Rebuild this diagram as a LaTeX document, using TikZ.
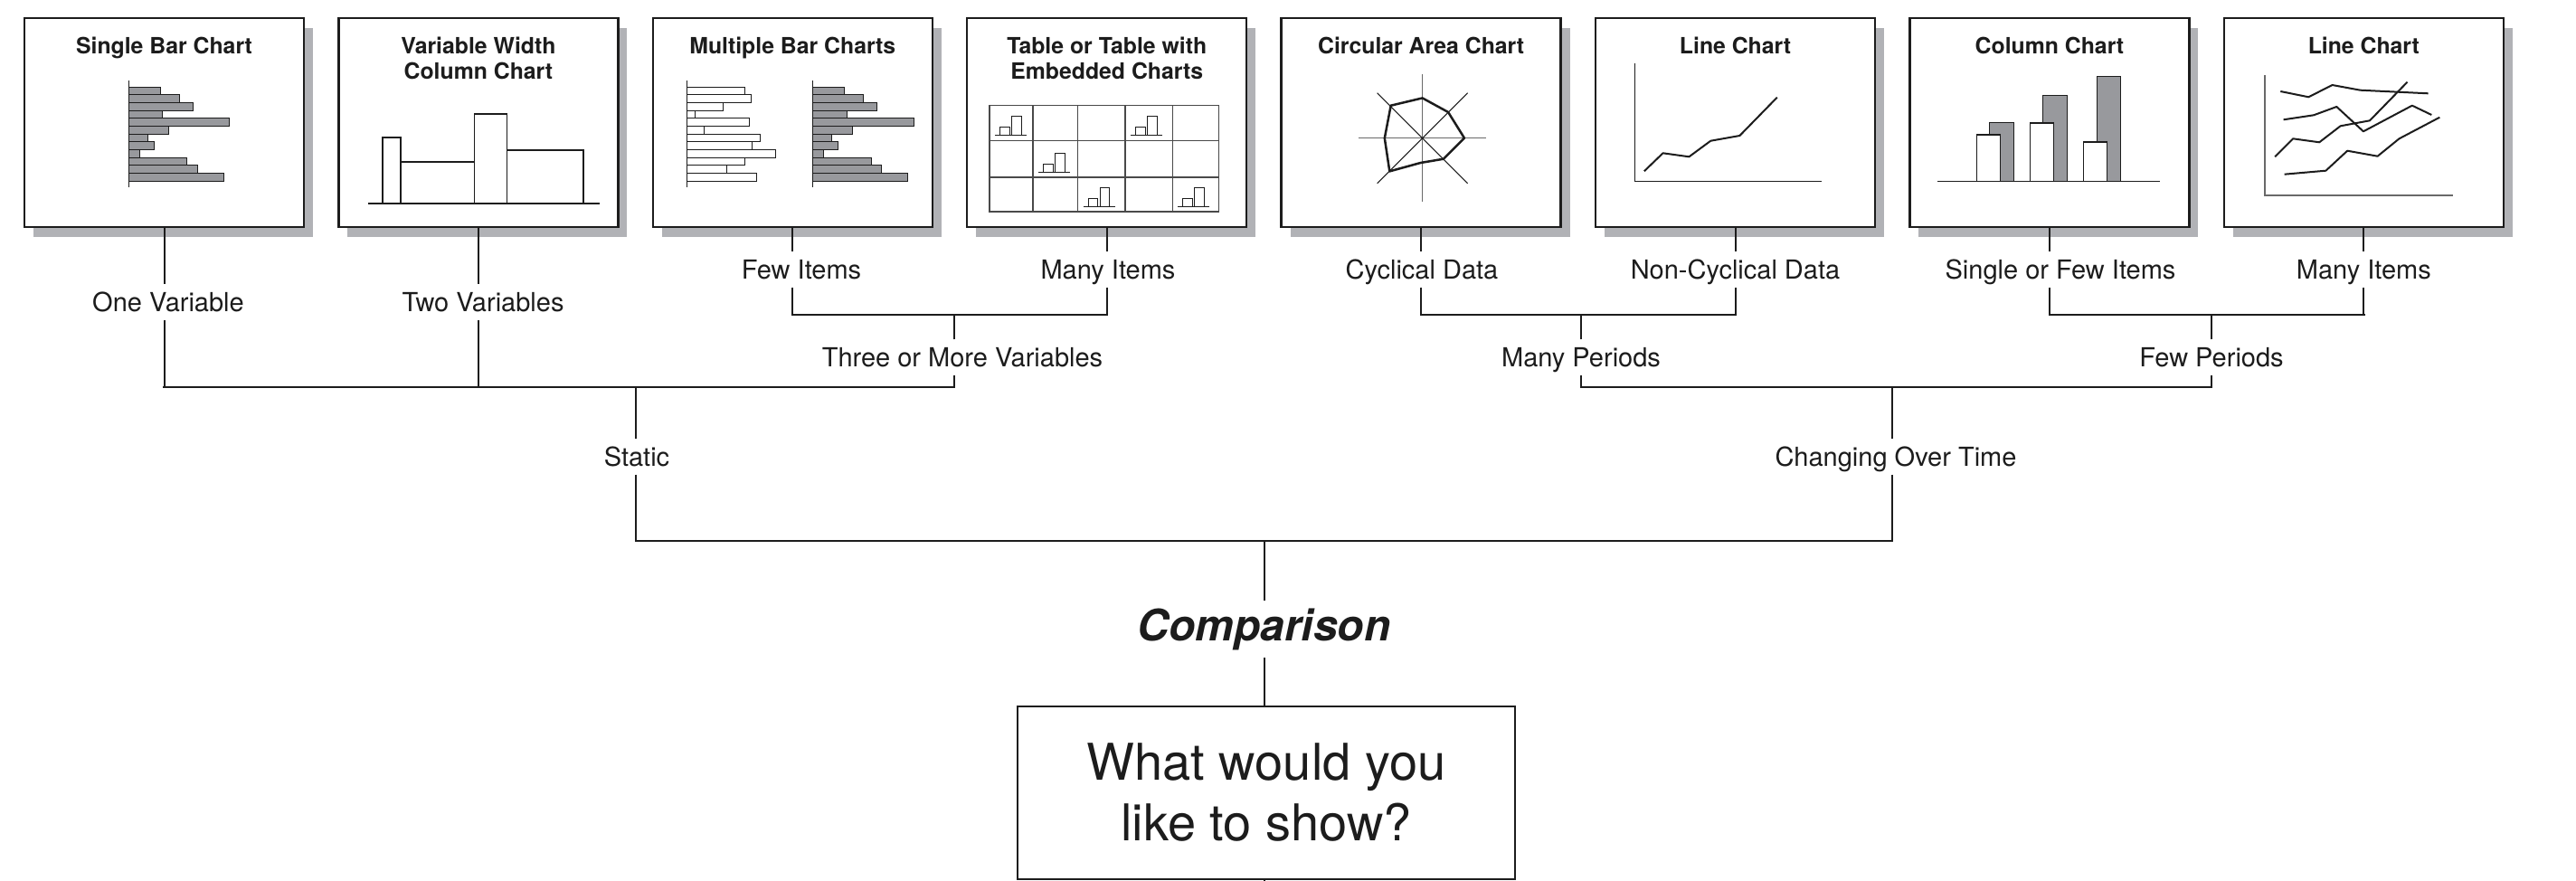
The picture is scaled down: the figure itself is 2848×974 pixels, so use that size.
\documentclass[tikz,border=0pt]{standalone}
\usepackage{fontspec}
\setmainfont{TeX Gyre Heros}
\usetikzlibrary{shadows}
\definecolor{ink}{RGB}{28,28,28}
\definecolor{shadowgray}{RGB}{177,178,182}
\definecolor{barfill}{RGB}{152,153,157}
\definecolor{axisgray}{RGB}{105,105,105}
\begin{document}
\begin{tikzpicture}[x=1pt,y=-1pt,
  chartbox/.style={draw=ink, line width=2.5pt, fill=white, minimum width=309pt, minimum height=231pt, inner sep=0pt,
    general shadow={fill=shadowgray, shadow xshift=10pt, shadow yshift=-11pt}},
  ttl/.style={text=ink, font=\bfseries\fontsize{24.8}{28}\selectfont, align=center, inner sep=0pt, anchor=north},
  lab/.style={text=ink, font=\fontsize{29}{34}\selectfont, text height=21pt, text depth=1pt, inner xsep=4pt, inner ysep=8.5pt, anchor=base},
  cmp/.style={text=ink, font=\bfseries\itshape\fontsize{48}{56}\selectfont, text height=35pt, text depth=10pt, inner xsep=4pt, inner ysep=9pt, anchor=base},
  qbox/.style={draw=ink, line width=2pt, fill=white, minimum width=550pt, minimum height=191pt, align=center, text=ink, font=\fontsize{56}{67}\selectfont},
  conn/.style={draw=ink, line width=2pt},
  brk/.style={draw=ink, line width=2.6pt, line cap=rect},
  thinl/.style={draw=ink, line width=1.2pt},
  axisl/.style={draw=axisgray, line width=1.5pt},
  bar/.style={draw=ink, line width=1pt, fill=barfill},
  wbar/.style={draw=ink, line width=1pt, fill=white},
  wcol/.style={draw=ink, line width=1.4pt, fill=white},
  gridl/.style={draw=ink!80, line width=1.4pt},
  mini/.style={draw=ink, line width=1pt},
  chartline/.style={draw=ink, line width=2pt, line join=round}
]
\useasboundingbox (0,0) rectangle (2848,974);

% level coordinates
\coordinate (lvA) at (0,348);
\coordinate (lvB) at (0,428);
\coordinate (lvC) at (0,598);
\coordinate (ttop) at (0,40.5);
\coordinate (bottomedge) at (0,974);
% junction x positions
\coordinate (jThree) at (1055,0);
\coordinate (jMany) at (1748,0);
\coordinate (jFew) at (2445,0);
\coordinate (jStatic) at (703,0);
\coordinate (jChange) at (2092,0);

% chart boxes
\node[chartbox] (b1) at (181.5,135.5) {};
\node[chartbox] (b2) at (528.9,135.5) {};
\node[chartbox] (b3) at (876.3,135.5) {};
\node[chartbox] (b4) at (1223.7,135.5) {};
\node[chartbox] (b5) at (1571.1,135.5) {};
\node[chartbox] (b6) at (1918.5,135.5) {};
\node[chartbox] (b7) at (2265.9,135.5) {};
\node[chartbox] (b8) at (2613.3,135.5) {};

% titles
\node[ttl] (t1) at (b1.north |- ttop) {Single Bar Chart};
\node[ttl] (t2) at (b2.north |- ttop) {Variable Width\\Column Chart};
\node[ttl] (t3) at (b3.north |- ttop) {Multiple Bar Charts};
\node[ttl] (t4) at (b4.north |- ttop) {Table or Table with\\Embedded Charts};
\node[ttl] (t5) at (b5.north |- ttop) {Circular Area Chart};
\node[ttl] (t6) at (b6.north |- ttop) {Line Chart};
\node[ttl] (t7) at (b7.north |- ttop) {Column Chart};
\node[ttl] (t8) at (b8.north |- ttop) {Line Chart};

% --- box 1: single bar chart
\foreach \l [count=\i from 0] in {35,56,70.7,37.6,111.6,44,21,28.5,12,64,76,104.7}
  \draw[bar] (142.3,{96+\i*8.667}) rectangle ++(\l,8.667);
\draw[thinl] (142.3,89) -- (142.3,207);

% --- box 2: variable width column chart
\draw[wcol] (422.9,225) rectangle (443,152);
\draw[wcol] (443,225) rectangle (524.3,179);
\draw[wcol] (524.3,225) rectangle (560.6,126);
\draw[wcol] (560.6,225) rectangle (645,166);
\draw[thinl] (406.8,225) -- (662.5,225);

% --- box 3: multiple bar charts
\foreach \l [count=\i from 0] in {63.8,71.2,40,9.6,69.3,19.7,81.7,72.5,98.3,63.8,44,77.6}
  \draw[wbar] (759.2,{96+\i*8.667}) rectangle ++(\l,8.667);
\draw[thinl] (759.2,89) -- (759.2,207);
\foreach \l [count=\i from 0] in {35.4,56,71.6,38.1,112.5,44.5,21.6,28.5,12.4,64.7,76.2,104.7}
  \draw[bar] (898.3,{96+\i*8.667}) rectangle ++(\l,8.667);
\draw[thinl] (898.3,89) -- (898.3,207);

% --- box 4: table with embedded charts
\draw[gridl] (1094,116.7) rectangle (1347.4,234);
\foreach \x in {1142.1,1191.7,1244.1,1296.4} \draw[gridl] (\x,116.7) -- (\x,234);
\foreach \y in {155.7,196} \draw[gridl] (1094,\y) -- (1347.4,\y);
\foreach \cx/\cy in {1094/155.7,1244.1/155.7,1142.1/196,1191.7/234,1296.4/234} {
  \draw[mini] ({\cx+11.5},{\cy-6}) rectangle ({\cx+22},{\cy-15});
  \draw[mini] ({\cx+24.5},{\cy-6}) rectangle ({\cx+35},{\cy-27});
  \draw[mini] ({\cx+6},{\cy-6}) -- ({\cx+41},{\cy-6});
}

% --- box 5: circular area chart
\begin{scope}[shift={(1572.6,152.7)}]
  \draw[axisl] (-70.7,0) -- (70.7,0);
  \draw[axisl] (0,-70.7) -- (0,70.7);
  \draw[thinl, line width=1pt] (-50,-50) -- (50,50);
  \draw[thinl, line width=1pt] (50,-50) -- (-50,50);
  \draw[chartline, line width=2.5pt] (-34.9,-36) -- (0,-44.3) -- (28.5,-28.7) -- (46.4,0) -- (23.4,23) -- (-2,27.3) -- (-36.3,36.7) -- (-41.8,0) -- cycle;
\end{scope}

% --- box 6: line chart
\draw[thinl] (1807.3,70) -- (1807.3,200.7) -- (2014.3,200.7);
\draw[chartline] (1817.8,189.3) -- (1838.5,169.3) -- (1867.4,173.3) -- (1891.3,155.7) -- (1923.4,150) -- (1964.7,107.7);

% --- box 7: column chart
\draw[bar] (2199.7,200.3) rectangle (2226,135);
\draw[bar] (2258.9,200.3) rectangle (2285.1,105.7);
\draw[bar] (2318,200.3) rectangle (2344.3,84.3);
\draw[wcol] (2185.4,200.3) rectangle (2211.6,149);
\draw[wcol] (2244.6,200.3) rectangle (2270.3,136);
\draw[wcol] (2303.7,200.3) rectangle (2329.5,157);
\draw[thinl] (2142,200.3) -- (2387.7,200.3);

% --- box 8: multiple line chart
\draw[axisl] (2504.1,83.3) -- (2504.1,216) -- (2711.6,216);
\draw[chartline] (2521.3,101) -- (2552.3,107.3) -- (2578.5,94) -- (2609.5,99.7) -- (2684.5,103.3);
\draw[chartline] (2524.6,132.3) -- (2558,127.3) -- (2583.3,118) -- (2612.9,145.3) -- (2666.8,116.7) -- (2688.3,127);
\draw[chartline] (2515.1,173.3) -- (2535.1,153.3) -- (2564.2,157.3) -- (2587.6,139.3) -- (2620,133.3) -- (2661.5,90.7);
\draw[chartline] (2525.6,192.7) -- (2571.4,188.7) -- (2595.2,166.7) -- (2628.6,172.7) -- (2652.5,153.3) -- (2697.3,129.7);

% labels
\node[lab] (onevar) at (186,344) {One Variable};
\node[lab] (twovar) at (534,344) {Two Variables};
\node[lab] (fewit) at (886,308) {Few Items};
\node[lab] (manyitA) at (1225,308) {Many Items};
\node[lab] (cyc) at (1572,308) {Cyclical Data};
\node[lab] (noncyc) at (1918.5,308) {Non-Cyclical Data};
\node[lab] (singfew) at (2278,308) {Single or Few Items};
\node[lab] (manyitB) at (2613.3,308) {Many Items};
\node[lab] (threeplus) at (1064,405) {Three or More Variables};
\node[lab] (manyper) at (1748,405) {Many Periods};
\node[lab] (fewper) at (2445,405) {Few Periods};
\node[lab] (static) at (704,515) {Static};
\node[lab] (changing) at (2096,515) {Changing Over Time};
\node[cmp] (comparison) at (1397.5,708) {Comparison};
\node[qbox] (q) at (1400,876) {What would you\\like to show?};

% stems from boxes
\draw[conn] (b1.south) -- (b1.south |- onevar.north);
\draw[conn] (b2.south) -- (b2.south |- twovar.north);
\draw[conn] (b3.south) -- (b3.south |- fewit.north);
\draw[conn] (b4.south) -- (b4.south |- manyitA.north);
\draw[conn] (b5.south) -- (b5.south |- cyc.north);
\draw[conn] (b6.south) -- (b6.south |- noncyc.north);
\draw[conn] (b7.south) -- (b7.south |- singfew.north);
\draw[conn] (b8.south) -- (b8.south |- manyitB.north);

% level A brackets
\draw[conn] (b3.south |- fewit.south) -- (b3.south |- lvA);
\draw[conn] (b4.south |- manyitA.south) -- (b4.south |- lvA);
\draw[brk] (b3.south |- lvA) -- (b4.south |- lvA);
\draw[conn] (jThree |- threeplus.north) -- (jThree |- lvA);

\draw[conn] (b5.south |- cyc.south) -- (b5.south |- lvA);
\draw[conn] (b6.south |- noncyc.south) -- (b6.south |- lvA);
\draw[brk] (b5.south |- lvA) -- (b6.south |- lvA);
\draw[conn] (jMany |- manyper.north) -- (jMany |- lvA);

\draw[conn] (b7.south |- singfew.south) -- (b7.south |- lvA);
\draw[conn] (b8.south |- manyitB.south) -- (b8.south |- lvA);
\draw[brk] (b7.south |- lvA) -- (b8.south |- lvA);
\draw[conn] (jFew |- fewper.north) -- (jFew |- lvA);

% level B brackets
\draw[conn] (b1.south |- onevar.south) -- (b1.south |- lvB);
\draw[conn] (b2.south |- twovar.south) -- (b2.south |- lvB);
\draw[conn] (jThree |- threeplus.south) -- (jThree |- lvB);
\draw[brk] (b1.south |- lvB) -- (jThree |- lvB);
\draw[conn] (jStatic |- static.north) -- (jStatic |- lvB);

\draw[conn] (jMany |- manyper.south) -- (jMany |- lvB);
\draw[conn] (jFew |- fewper.south) -- (jFew |- lvB);
\draw[brk] (jMany |- lvB) -- (jFew |- lvB);
\draw[conn] (jChange |- changing.north) -- (jChange |- lvB);

% level C bracket
\draw[conn] (jStatic |- static.south) -- (jStatic |- lvC);
\draw[conn] (jChange |- changing.south) -- (jChange |- lvC);
\draw[brk] (jStatic |- lvC) -- (jChange |- lvC);
\draw[conn] (comparison.north) -- (comparison.north |- lvC);

% to question
\draw[conn] (comparison.south) -- (comparison.south |- q.north);
\draw[conn] (comparison.south |- q.south) -- (comparison.south |- bottomedge);
\end{tikzpicture}
\end{document}
